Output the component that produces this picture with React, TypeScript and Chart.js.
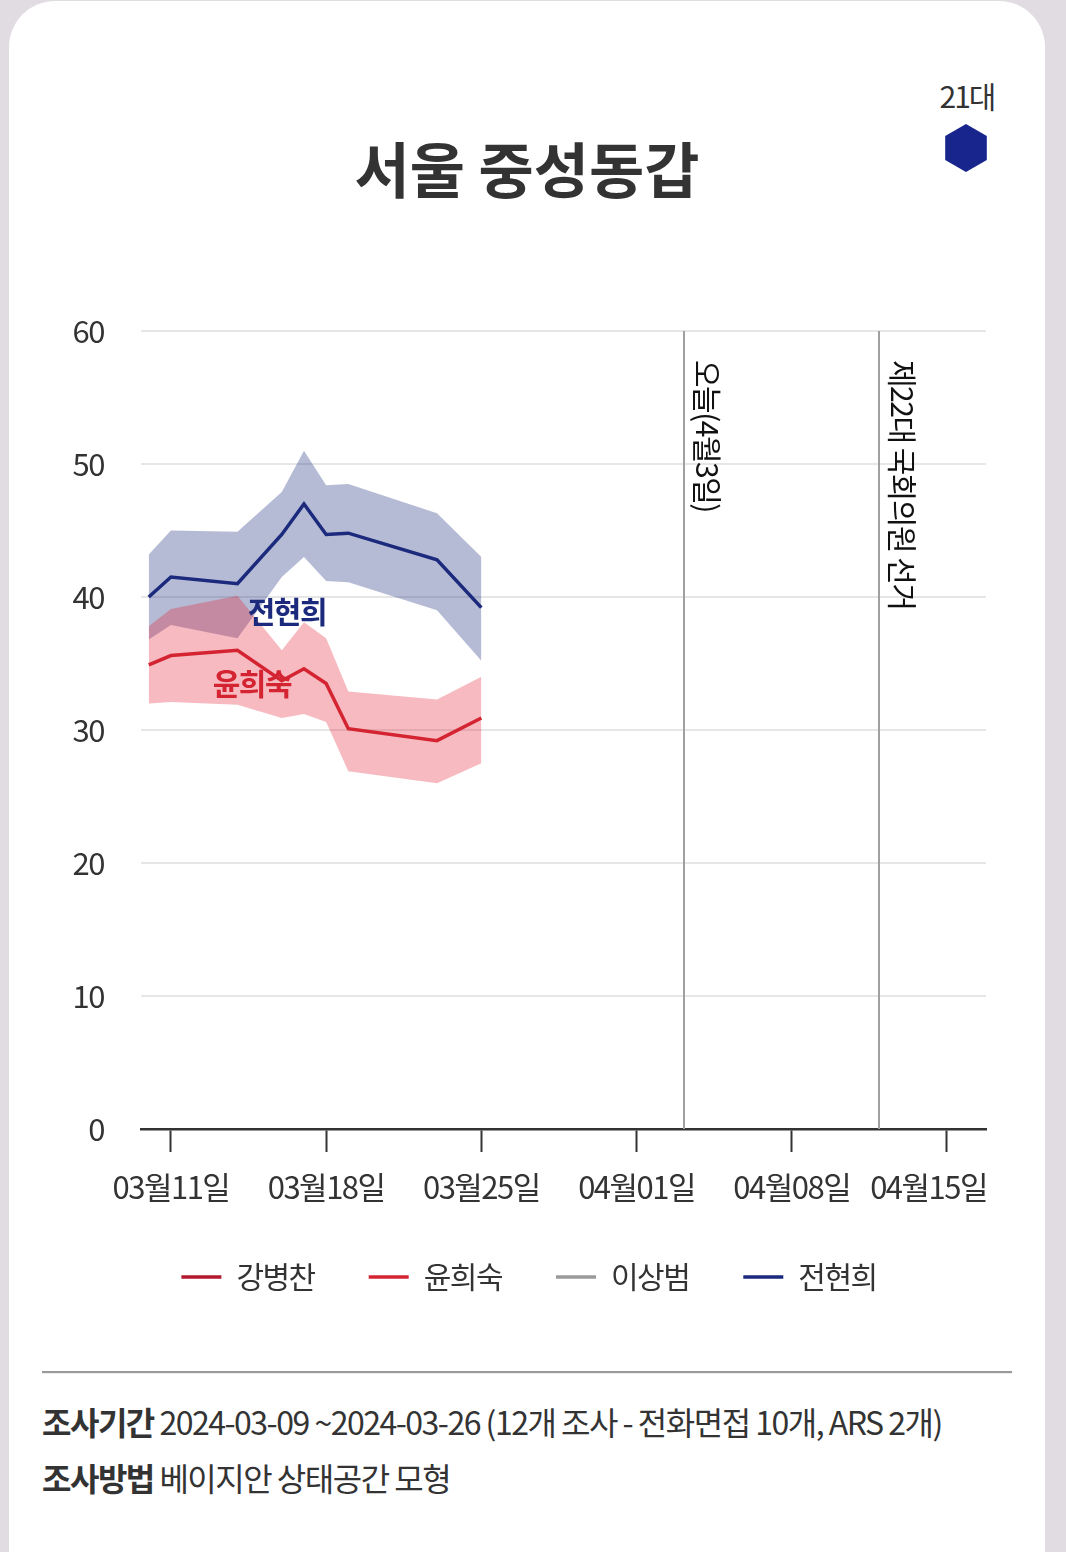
import { useEffect, useRef } from "react";
import { Chart, registerables } from "chart.js";

Chart.register(...registerables);

const FONT = "'Noto Sans CJK KR', 'Noto Sans', sans-serif";

// Poll dates (x positions are days counted from 2024-03-11)
const BASE_DATE = "2024-03-11";
const pollDates = [
  "2024-03-10",
  "2024-03-11",
  "2024-03-14",
  "2024-03-16",
  "2024-03-17",
  "2024-03-18",
  "2024-03-19",
  "2024-03-23",
  "2024-03-25",
];

// 윤희숙: estimate and credible band
const yoonMean = [34.9, 35.6, 36.0, 33.7, 34.6, 33.5, 30.1, 29.2, 30.9];
const yoonUpper = [37.8, 39.1, 40.1, 36.0, 38.1, 36.9, 32.9, 32.3, 34.0];
const yoonLower = [32.0, 32.1, 31.9, 30.9, 31.2, 30.6, 26.9, 26.0, 27.5];

// 전현희: estimate and credible band
const jeonMean = [40.0, 41.5, 41.0, 44.7, 47.0, 44.7, 44.8, 42.8, 39.2];
const jeonUpper = [43.2, 45.0, 44.9, 47.9, 51.0, 48.4, 48.5, 46.3, 43.0];
const jeonLower = [36.8, 37.9, 36.9, 41.5, 43.0, 41.2, 41.1, 39.0, 35.2];

// Legend entries
const candidates = ["강병찬", "윤희숙", "이상범", "전현희"];
const candidateColors = ["#b3182d", "#d42432", "#9a9a9a", "#1b2a7c"];

// X axis ticks
const xTickDays = [0, 7, 14, 21, 28, 35];
const xTickLabels = ["03월11일", "03월18일", "03월25일", "04월01일", "04월08일", "04월15일"];
const xRange = [-1.35, 36.76];

// Y axis
const yTickValues = [0, 10, 20, 30, 40, 50, 60];

// Vertical reference lines
const markerLabels = ["오늘(4월3일)", "제22대 국회의원 선거"];
const markerDays = [23.15, 31.93];

// Inline candidate name tags
const tagNames = ["전현희", "윤희숙"];
const tagDays = [5.23, 3.65];
const tagValues = [38.9, 33.5];
const tagColors = ["#1b2a7c", "#d42432"];

const toDay = (d: string) => (Date.parse(d) - Date.parse(BASE_DATE)) / 86400000;
const xs = pollDates.map(toDay);
const pts = (vals: number[]) => vals.map((v, i) => ({ x: xs[i], y: v }));

const spacingPlugin = {
  id: "letterSpacing",
  beforeUpdate(chart: any) {
    chart.ctx.letterSpacing = "-1.5px";
  },
  beforeDraw(chart: any) {
    chart.ctx.letterSpacing = "-1.5px";
  },
};

const markerPlugin = {
  id: "markers",
  beforeDatasetsDraw(chart: any) {
    const { ctx, scales } = chart;
    const xScale = scales.x;
    const yScale = scales.y;
    markerDays.forEach((d, i) => {
      const x = Math.round(xScale.getPixelForValue(d));
      ctx.save();
      ctx.strokeStyle = "#a0a0a0";
      ctx.lineWidth = 2;
      ctx.beginPath();
      ctx.moveTo(x, yScale.top);
      ctx.lineTo(x, yScale.bottom);
      ctx.stroke();
      ctx.translate(x + 23, yScale.top + 29);
      ctx.rotate(Math.PI / 2);
      ctx.letterSpacing = "-1.5px";
      ctx.font = `30px ${FONT}`;
      ctx.fillStyle = "#111";
      ctx.textAlign = "left";
      ctx.textBaseline = "middle";
      ctx.fillText(markerLabels[i], 0, 0);
      ctx.restore();
    });
  },
};

const tagPlugin = {
  id: "nameTags",
  afterDatasetsDraw(chart: any) {
    const { ctx, scales } = chart;
    tagNames.forEach((name, i) => {
      const x = scales.x.getPixelForValue(tagDays[i]);
      const y = scales.y.getPixelForValue(tagValues[i]);
      ctx.save();
      ctx.letterSpacing = "-1.5px";
      ctx.font = `bold 30px ${FONT}`;
      ctx.fillStyle = tagColors[i];
      ctx.textAlign = "center";
      ctx.textBaseline = "middle";
      ctx.fillText(name, x, y);
      ctx.restore();
    });
  },
};

// Date labels under the x ticks; the last one is kept inside the plot's right edge
const xLabelPlugin = {
  id: "xLabels",
  afterDraw(chart: any) {
    const { ctx, scales, chartArea } = chart;
    ctx.save();
    ctx.letterSpacing = "-1.5px";
    ctx.font = `31px ${FONT}`;
    ctx.fillStyle = "#333";
    ctx.textAlign = "center";
    ctx.textBaseline = "middle";
    xTickDays.forEach((d, i) => {
      const w = ctx.measureText(xTickLabels[i]).width;
      const x = Math.min(scales.x.getPixelForValue(d), chartArea.right + 1 - w / 2);
      ctx.fillText(xTickLabels[i], x, chartArea.bottom + 58);
    });
    ctx.restore();
  },
};

const lineStyle = (i: number, data: { x: number; y: number }[]) => ({
  label: candidates[i],
  data,
  borderColor: candidateColors[i],
  backgroundColor: candidateColors[i],
  borderWidth: 3.5,
  pointRadius: 0,
  tension: 0,
  fill: false,
});

const bandStyle = (data: { x: number; y: number }[], fill: any, color: string) => ({
  label: "band",
  data,
  borderWidth: 0,
  borderColor: "transparent",
  backgroundColor: color,
  pointRadius: 0,
  tension: 0,
  fill,
});

export default function App() {
  const canvasRef = useRef<HTMLCanvasElement>(null);

  useEffect(() => {
    const canvas = canvasRef.current;
    if (!canvas) return;
    const chart = new Chart(canvas, {
      type: "line",
      data: {
        datasets: [
          lineStyle(0, []),
          lineStyle(1, pts(yoonMean)),
          lineStyle(2, []),
          lineStyle(3, pts(jeonMean)),
          bandStyle(pts(yoonUpper), "+1", "rgba(225,25,45,0.3)"),
          bandStyle(pts(yoonLower), false, "rgba(225,25,45,0.3)"),
          bandStyle(pts(jeonUpper), "+1", "rgba(27,42,124,0.32)"),
          bandStyle(pts(jeonLower), false, "rgba(27,42,124,0.32)"),
        ] as any,
      },
      options: {
        animation: false,
        responsive: false,
        events: [],
        layout: { padding: { left: 72, right: 80, top: 41, bottom: 0 } },
        scales: {
          x: {
            type: "linear",
            min: xRange[0],
            max: xRange[1],
            afterBuildTicks: (scale: any) => {
              scale.ticks = xTickDays.map((v) => ({ value: v }));
            },
            afterFit: (scale: any) => {
              scale.height = 79;
            },
            grid: {
              drawOnChartArea: false,
              drawTicks: true,
              tickLength: 23,
              tickColor: "#333",
              tickWidth: 2,
            },
            border: { display: true, color: "#333", width: 2.5 },
            ticks: { display: false, autoSkip: false, maxRotation: 0 },
          },
          y: {
            min: 0,
            max: 60,
            afterBuildTicks: (scale: any) => {
              scale.ticks = yTickValues.map((v) => ({ value: v }));
            },
            afterFit: (scale: any) => {
              scale.width = 69;
            },
            grid: {
              drawTicks: true,
              tickLength: 37,
              tickColor: "transparent",
              lineWidth: 2,
              color: (c: any) => (c.tick && c.tick.value === 0 ? "transparent" : "#e6e6e6"),
            },
            border: { display: false },
            ticks: {
              padding: 0,
              color: "#333",
              font: { family: FONT, size: 31 },
            },
          },
        },
        plugins: {
          tooltip: { enabled: false },
          legend: {
            position: "bottom",
            align: "center",
            labels: {
              filter: (item: any) => item.text !== "band",
              usePointStyle: true,
              pointStyle: "line",
              pointStyleWidth: 40,
              padding: 54,
              color: "#333",
              font: { family: FONT, size: 30 },
            },
          },
        },
      } as any,
      plugins: [spacingPlugin, markerPlugin, tagPlugin, xLabelPlugin],
    });
    return () => chart.destroy();
  }, []);

  return (
    <div
      style={{
        position: "absolute",
        left: 0,
        top: 0,
        width: 1066,
        height: 1552,
        background: "#e1dce2",
        overflow: "hidden",
        fontFamily: FONT,
      }}
    >
      <div
        style={{
          position: "absolute",
          left: 9,
          top: 1,
          width: 1036,
          height: 1620,
          background: "#fff",
          borderRadius: 46,
        }}
      />
      <div
        style={{
          position: "absolute",
          left: 9,
          width: 1036,
          top: 130,
          lineHeight: "74px",
          textAlign: "center",
          fontSize: 60,
          fontWeight: 700,
          color: "#333",
        }}
      >
        서울 중성동갑
      </div>
      <div
        style={{
          position: "absolute",
          left: 917,
          width: 100,
          top: 75,
          lineHeight: "40px",
          textAlign: "center",
          fontSize: 30,
          letterSpacing: -2,
          color: "#333",
        }}
      >
        21대
      </div>
      <svg
        style={{ position: "absolute", left: 940, top: 120 }}
        width={52}
        height={56}
        viewBox="0 0 52 56"
      >
        <polygon points="26,4 46.8,16 46.8,40 26,52 5.2,40 5.2,16" fill="#18258c" />
      </svg>
      <canvas
        ref={canvasRef}
        width={1066}
        height={1012}
        style={{ position: "absolute", left: 0, top: 290, width: 1066, height: 1012 }}
      />
      <div
        style={{
          position: "absolute",
          left: 42,
          width: 970,
          top: 1371,
          borderTop: "2px solid #9a9a9a",
          borderBottom: "1px solid #eeeeee",
        }}
      />
      <div
        style={{
          position: "absolute",
          left: 42,
          top: 1400,
          lineHeight: "42px",
          fontSize: 32,
          letterSpacing: -1.5,
          color: "#333",
          whiteSpace: "nowrap",
        }}
      >
        <b>조사기간</b> 2024-03-09 ~2024-03-26 (12개 조사 - 전화면접 10개, ARS 2개)
      </div>
      <div
        style={{
          position: "absolute",
          left: 42,
          top: 1456,
          lineHeight: "42px",
          fontSize: 32,
          letterSpacing: -1.5,
          color: "#333",
          whiteSpace: "nowrap",
        }}
      >
        <b>조사방법</b> 베이지안 상태공간 모형
      </div>
    </div>
  );
}
